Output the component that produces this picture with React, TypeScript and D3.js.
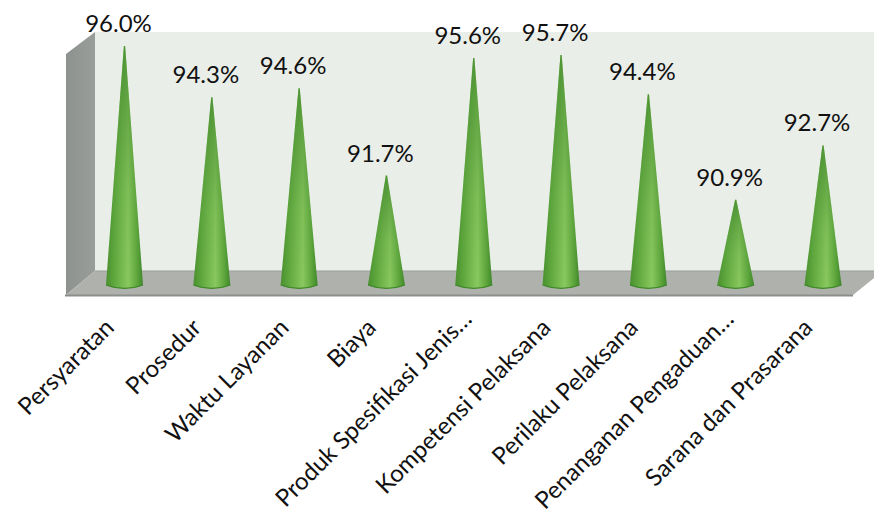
import React from "react";
import * as d3 from "d3";

const categories = [
  "Persyaratan",
  "Prosedur",
  "Waktu Layanan",
  "Biaya",
  "Produk Spesifikasi Jenis…",
  "Kompetensi Pelaksana",
  "Perilaku Pelaksana",
  "Penanganan Pengaduan…",
  "Sarana dan Prasarana",
];
const values = [96.0, 94.3, 94.6, 91.7, 95.6, 95.7, 94.4, 90.9, 92.7];
const valueDomain = [88, 96];

const W = 874;
const H = 511;
const FONT = "Lato, 'Open Sans', sans-serif";

const x = d3.scalePoint<string>().domain(categories).range([124.5, 823]);
const y = d3.scaleLinear().domain(valueDomain).range([287, 46]);

const CONE_RX = 18.5;
const CONE_RY = 3.5;

function conePath(cx: number, tip: number, base: number) {
  const p = d3.path();
  p.moveTo(cx - 0.6, tip);
  p.lineTo(cx + 0.6, tip);
  p.lineTo(cx + CONE_RX, base);
  p.bezierCurveTo(cx + CONE_RX * 0.6, base + CONE_RY * 1.35, cx - CONE_RX * 0.6, base + CONE_RY * 1.35, cx - CONE_RX, base);
  p.closePath();
  return p.toString();
}

const poly = (pts: [number, number][]) => d3.line()(pts) + "Z";

export default function App() {
  return (
    <svg
      width={W}
      height={H}
      viewBox={`0 0 ${W} ${H}`}
      style={{ position: "absolute", left: 0, top: 0, background: "#fff" }}
    >
      <defs>
        <linearGradient id="coneFill" x1="0" x2="1" y1="0" y2="0">
          <stop offset="0" stopColor="#4a9030" />
          <stop offset="0.2" stopColor="#5da63c" />
          <stop offset="0.6" stopColor="#8ac95f" />
          <stop offset="0.85" stopColor="#5ca53b" />
          <stop offset="1" stopColor="#3f862b" />
        </linearGradient>
        {/* the narrow tip of each cone reads darker than its belly */}
        <linearGradient id="coneShade" x1="0" x2="0" y1="0" y2="1">
          <stop offset="0" stopColor="#3f862b" stopOpacity={0.75} />
          <stop offset="0.6" stopColor="#3f862b" stopOpacity={0.15} />
          <stop offset="1" stopColor="#3f862b" stopOpacity={0} />
        </linearGradient>
        <linearGradient id="sideWall" x1="0" x2="1" y1="0" y2="0">
          <stop offset="0" stopColor="#8e928f" />
          <stop offset="1" stopColor="#9a9e9a" />
        </linearGradient>
      </defs>

      {/* back wall, side wall and floor of the 3D box */}
      <polygon points="95,32 874,32 874,272 95,272" fill="#e9eee8" />
      <path d={poly([[66, 54], [95, 32], [95, 271], [66, 295]])} fill="url(#sideWall)" />
      <path d={poly([[95, 271], [874, 271], [874, 278], [853, 295], [66, 295]])} fill="#aeb1ac" />
      <line x1={95} y1={271} x2={874} y2={271} stroke="#9a9d99" strokeWidth={1} />
      <line x1={65} y1={295.5} x2={853} y2={295.5} stroke="#8b8e8b" strokeWidth={2} />

      {categories.map((c, i) => {
        const cx = x(c)!;
        const tip = y(values[i]);
        // truncated labels run a little further along their baseline
        const along = c.endsWith("…") ? 12 : 0;
        return (
          <g key={c}>
            <path d={conePath(cx, tip, 285)} fill="url(#coneFill)" />
            <path d={conePath(cx, tip, 285)} fill="url(#coneShade)" />
            <path
              d={`M${cx - CONE_RX},285Q${cx},${285 + CONE_RY * 1.9} ${cx + CONE_RX},285`}
              fill="none"
              stroke="#3f862b"
              strokeWidth={1.2}
            />
            <text
              x={cx - 6}
              y={tip - 14}
              textAnchor="middle"
              fontFamily={FONT}
              fontSize={24}
              fill="#111"
            >
              {d3.format(".1f")(values[i])}%
            </text>
            <text
              transform={`translate(${cx - 9},329) rotate(-45)`}
              x={along}
              textAnchor="end"
              fontFamily={FONT}
              fontSize={24}
              fill="#111"
            >
              {c}
            </text>
          </g>
        );
      })}
    </svg>
  );
}
